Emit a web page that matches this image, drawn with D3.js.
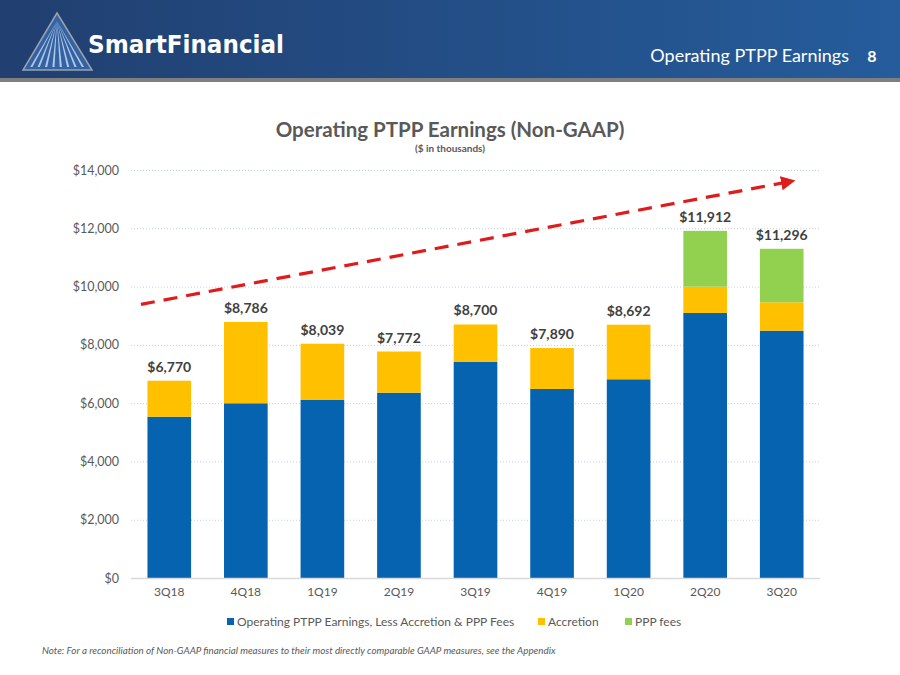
<!DOCTYPE html>
<html><head><meta charset="utf-8">
<script src="https://cdn.jsdelivr.net/npm/d3@7"></script>
<style>body{margin:0;background:#fff}svg{display:block}</style>
</head><body>
<svg id="c" width="900" height="675"></svg>
<script>
const categories = ["3Q18","4Q18","1Q19","2Q19","3Q19","4Q19","1Q20","2Q20","3Q20"];
const coreEarnings = [5535,5995,6119,6359,7423,6486,6819,9094,8487];
const accretion    = [1235,2791,1920,1413,1277,1404,1873,903,974];
const pppFees      = [0,0,0,0,0,0,0,1915,1835];
const totals       = [6770,8786,8039,7772,8700,7890,8692,11912,11296];
const totalLabels  = ["$6,770","$8,786","$8,039","$7,772","$8,700","$7,890","$8,692","$11,912","$11,296"];
const yTicks = [0,2000,4000,6000,8000,10000,12000,14000];
const seriesNames = ["Operating PTPP Earnings, Less Accretion & PPP Fees","Accretion","PPP fees"];
const seriesColors = ["#0563b0","#ffc000","#92d050"];
// trend arrow: [category index position, value]
const trendLine = [[-0.37, 9390],[8.16, 13630]];

const svg = d3.select("#c");
const font = "Lato, 'Open Sans', sans-serif";

// ---------- header ----------
const defs = svg.append("defs");
const g1 = defs.append("linearGradient").attr("id","hdr").attr("x1","0").attr("x2","1");
g1.append("stop").attr("offset","0").attr("stop-color","#213f70");
g1.append("stop").attr("offset","1").attr("stop-color","#255c9b");
svg.append("rect").attr("x",0).attr("y",0).attr("width",900).attr("height",78).attr("fill","url(#hdr)");
svg.append("rect").attr("x",0).attr("y",78).attr("width",900).attr("height",4).attr("fill","#7f7f7f");

// logo triangle
const ax=57, ay=13, bl=23, br=92, by=70;
svg.append("path").attr("d",`M${ax},${ay}L${br},${by}L${bl},${by}Z`).attr("fill","#3463a3").attr("stroke","#9aa3ad").attr("stroke-width",1.5);
const nR = 8;
for(let i=0;i<nR;i++){
  const t0 = (i+0.3)/nR, t1=(i+0.6)/nR;
  const x0 = bl+5+(br-bl-10)*t0, x1 = bl+5+(br-bl-10)*t1;
  svg.append("path").attr("d",`M${ax},${ay+8}L${x1},${by-3}L${x0},${by-3}Z`).attr("fill","#c9d8ef").attr("opacity",0.85);
}
svg.append("text").attr("x",88).attr("y",53).attr("fill","#fff")
  .attr("font-family","'DejaVu Sans', sans-serif").attr("font-weight","bold").attr("font-size",24)
  .attr("textLength",196).attr("lengthAdjust","spacingAndGlyphs").text("SmartFinancial");

svg.append("text").attr("x",849).attr("y",62).attr("text-anchor","end").attr("fill","#fff")
  .attr("font-family",font).attr("font-size",18).text("Operating PTPP Earnings");
svg.append("text").attr("x",872).attr("y",62).attr("text-anchor","middle").attr("fill","#fff")
  .attr("font-family",font).attr("font-size",16).attr("font-weight","bold").text("8");

// ---------- chart ----------
const m = {left:131, right:820, top:170, bottom:578};
const x = d3.scaleBand().domain(categories).range([m.left,m.right]).paddingInner(0.43).paddingOuter(0.215);
const y = d3.scaleLinear().domain([0,14000]).range([m.bottom,m.top]);
const xi = d3.scaleLinear().domain([0,1]).range([x(categories[0])+x.bandwidth()/2, x(categories[1])+x.bandwidth()/2]);

svg.append("text").attr("x",450).attr("y",137).attr("text-anchor","middle").attr("fill","#595959")
  .attr("font-family",font).attr("font-weight","bold").attr("font-size",20.5).text("Operating PTPP Earnings (Non-GAAP)");
svg.append("text").attr("x",450).attr("y",152).attr("text-anchor","middle").attr("fill","#595959")
  .attr("font-family",font).attr("font-weight","bold").attr("font-size",10).text("($ in thousands)");

// gridlines
svg.append("g").selectAll("line").data(yTicks.filter(d=>d>0)).join("line")
  .attr("x1",m.left).attr("x2",m.right).attr("y1",d=>y(d)+0.5).attr("y2",d=>y(d)+0.5)
  .attr("stroke","#bdd2db").attr("stroke-width",1).attr("stroke-dasharray","1,2");

// y axis
const yAxis = svg.append("g").attr("transform",`translate(${m.left-9},0)`)
  .call(d3.axisLeft(y).tickValues(yTicks).tickSize(0).tickFormat(d=>"$"+d3.format(",")(d)));
yAxis.select(".domain").remove();
yAxis.selectAll("text").attr("font-family",font).attr("font-size",12.5).attr("fill","#595959");

// stacked bars
const rows = categories.map((c,i)=>({cat:c, core:coreEarnings[i], acc:accretion[i], ppp:pppFees[i]}));
const stack = d3.stack().keys(["core","acc","ppp"])(rows);
svg.append("g").selectAll("g").data(stack).join("g").attr("fill",(d,i)=>seriesColors[i])
  .selectAll("rect").data(d=>d.filter(s=>s[1]-s[0]>0)).join("rect")
  .attr("x",d=>x(d.data.cat)).attr("width",x.bandwidth())
  .attr("y",d=>y(d[1])).attr("height",d=>y(d[0])-y(d[1]));

// baseline
svg.append("line").attr("x1",m.left).attr("x2",m.right).attr("y1",m.bottom+0.5).attr("y2",m.bottom+0.5)
  .attr("stroke","#d9d9d9").attr("stroke-width",1.5);

// x axis
const xAxis = svg.append("g").attr("transform",`translate(0,${m.bottom+6})`).call(d3.axisBottom(x).tickSize(0));
xAxis.select(".domain").remove();
xAxis.selectAll("text").attr("font-family",font).attr("font-size",12).attr("fill","#595959");

// totals labels
svg.append("g").selectAll("text").data(categories).join("text")
  .attr("x",d=>x(d)+x.bandwidth()/2).attr("y",(d,i)=>y(totals[i])-9)
  .attr("text-anchor","middle").attr("font-family",font).attr("font-weight","bold").attr("font-size",14)
  .attr("fill","#404040").text((d,i)=>totalLabels[i]);

// trend arrow
defs.append("marker").attr("id","arr").attr("viewBox","0 0 10 10").attr("refX",9).attr("refY",5)
  .attr("markerWidth",4.5).attr("markerHeight",4.5).attr("orient","auto").attr("markerUnits","strokeWidth")
  .append("path").attr("d","M0,0L10,5L0,10Z").attr("fill","#e01b1b");
svg.append("line")
  .attr("x1",xi(trendLine[0][0])).attr("y1",y(trendLine[0][1]))
  .attr("x2",xi(trendLine[1][0])).attr("y2",y(trendLine[1][1]))
  .attr("stroke","#e01b1b").attr("stroke-width",3.2).attr("stroke-dasharray","14,9")
  .attr("marker-end","url(#arr)");

// legend
const legX = [227,538,625];
const lg = svg.append("g").selectAll("g").data(seriesNames).join("g")
  .attr("transform",(d,i)=>`translate(${legX[i]},622)`);
lg.append("rect").attr("x",0).attr("y",-4).attr("width",7).attr("height",7).attr("fill",(d,i)=>seriesColors[i]);
lg.append("text").attr("x",10).attr("y",4).attr("font-family",font).attr("font-size",12).attr("fill","#595959").text(d=>d);

// note
svg.append("text").attr("x",42).attr("y",654).attr("font-family",font).attr("font-style","italic")
  .attr("font-size",9.8).attr("fill","#595959")
  .text("Note: For a reconciliation of Non-GAAP financial measures to their most directly comparable GAAP measures, see the Appendix");
</script>
</body></html>
